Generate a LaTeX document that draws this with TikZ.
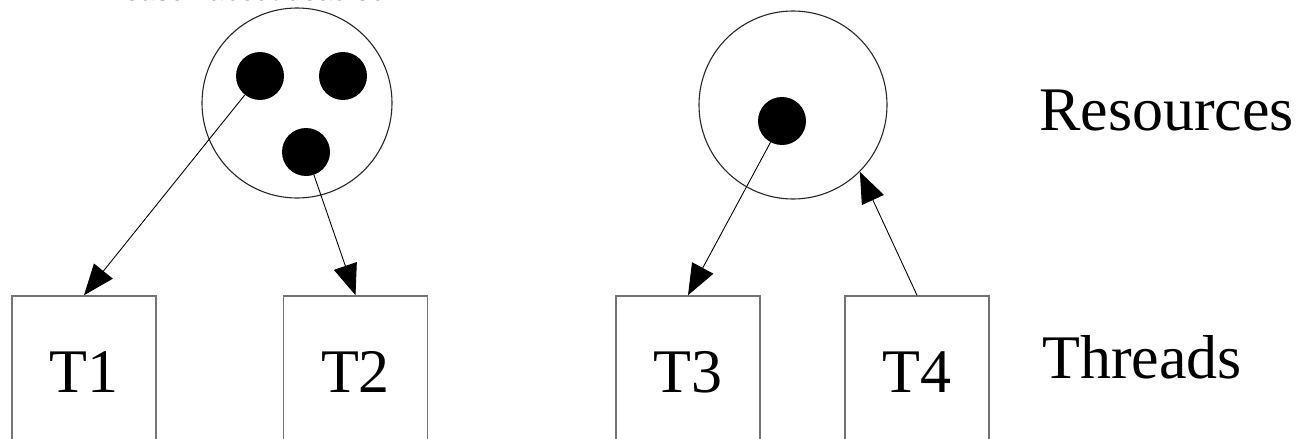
\documentclass[tikz,border=0pt]{standalone}
\usepackage{fontspec}
\setmainfont{Liberation Serif}
\newfontfamily\titlefont{Liberation Sans}
\usetikzlibrary{arrows.meta}
\tikzset{
  big/.style={font=\fontsize{62}{70}\selectfont},
  pool/.style={circle, draw=black!85, line width=1.1pt, minimum size=#1, inner sep=0pt},
  res/.style={circle, fill=black, minimum size=48pt, inner sep=0pt},
  thread/.style={rectangle, draw=black!55, line width=1.5pt, minimum width=144pt, minimum height=152pt, inner sep=0pt, big},
  arr/.style={line width=0.9pt, -{Triangle[length=31pt,width=24pt]}},
}
\begin{document}
\begin{tikzpicture}[x=1pt,y=-1pt]
\useasboundingbox (0,0) rectangle (1301,439);
% title, cut off at the top edge as in the reference
\node[anchor=base west, inner sep=0pt, font=\titlefont\fontsize{28}{30}\selectfont] (title) at (104,1) {Reason about deadlock};
% resource pools
\node[pool=190pt] (P1) at (297,103) {};
\node[pool=188pt] (P2) at (793,105) {};
% resources
\node[res] (A) at (260,76) {};
\node[res] (B) at (343,76) {};
\node[res] (C) at (306,152) {};
\node[res] (D) at (782,121) {};
% threads
\node[thread] (T1) at (84,372) {T1};
\node[thread] (T2) at (355.5,372) {T2};
\node[thread] (T3) at (688,372) {T3};
\node[thread] (T4) at (917,372) {T4};
% labels
\node[big, anchor=base west, inner sep=0pt] (lres) at (1039,130) {Resources};
\node[big, anchor=base west, inner sep=0pt] (lthr) at (1042,378) {Threads};
% connectors
\draw[arr] (A) -- (T1.north);
\draw[arr] (C) -- (T2.north);
\draw[arr] (D) -- (T3.north);
\draw[arr] (T4.north) -- (P2.-45);
\end{tikzpicture}
\end{document}
